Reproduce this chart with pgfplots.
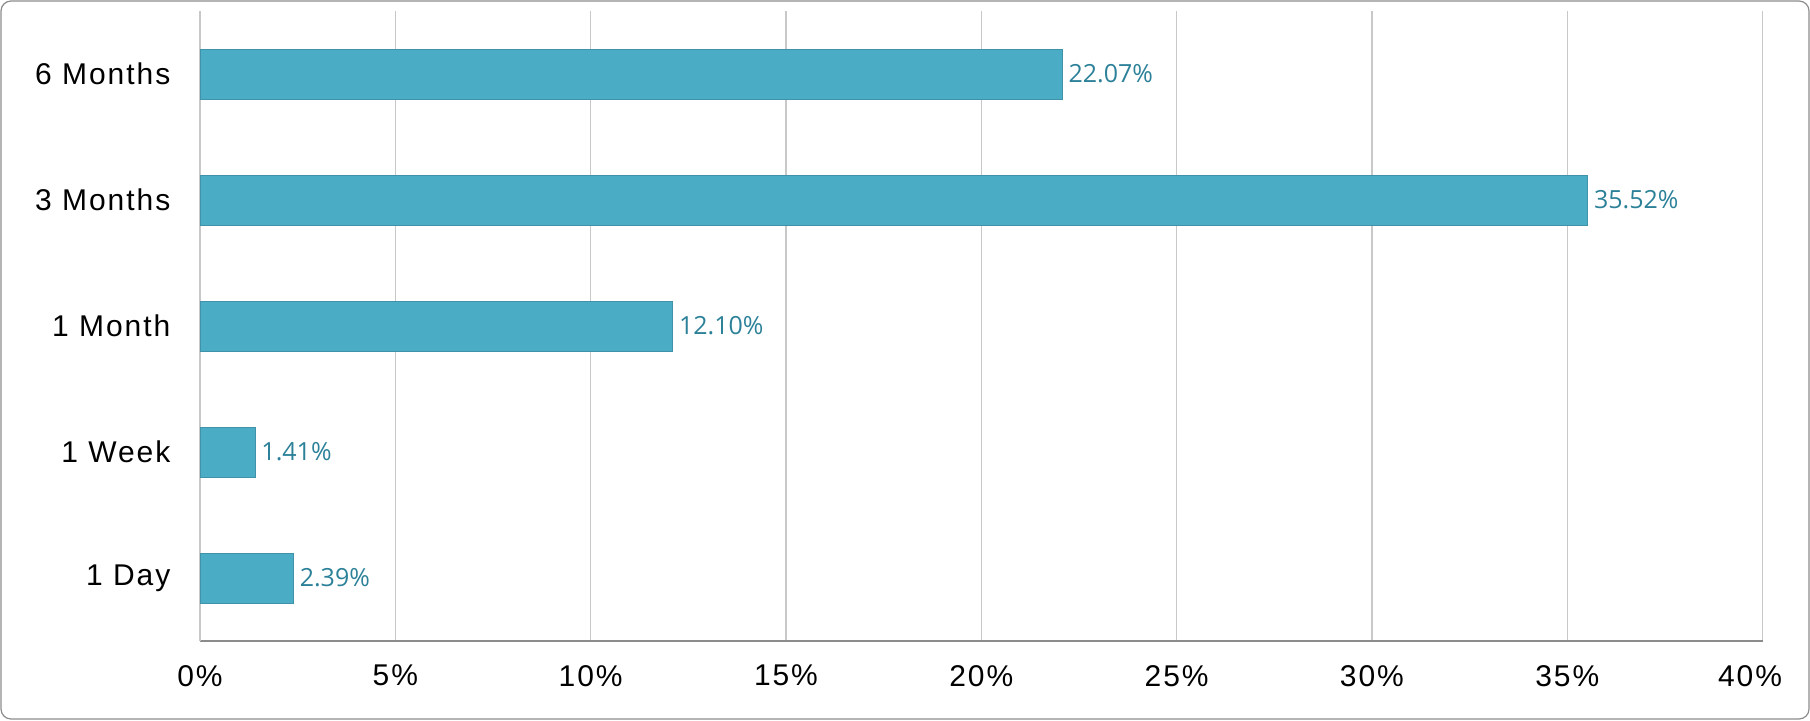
\documentclass[border=0pt]{standalone}
\usepackage{fontspec}
\setmainfont{Liberation Sans}
\newfontfamily\tickfont[LetterSpace=6.5]{Liberation Sans}
\newfontfamily\labfont{Open Sans}
\usepackage{pgfplots}
\pgfplotsset{compat=1.18}
\definecolor{barc}{HTML}{4BACC6}
\definecolor{labc}{HTML}{2C8199}
\definecolor{gridc}{HTML}{C8C8C8}
\definecolor{axc}{HTML}{8C8C8C}
\begin{document}
\begin{tikzpicture}
\useasboundingbox (0,0) rectangle (905pt,360pt);
\draw[color=axc, line width=0.6pt, rounded corners=5pt] (0.5pt,0.5pt) rectangle (904.5pt,359.5pt);
\begin{axis}[
  at={(100pt,39.5pt)}, anchor=south west,
  scale only axis, width=781.3pt, height=315pt,
  xbar, bar width=25pt,
  xmin=0, xmax=40, ymin=-0.5, ymax=4.5,
  xtick={0,5,...,40},
  xticklabels={0\%,5\%,10\%,15\%,20\%,25\%,30\%,35\%,\hspace*{-12.6pt}40\%},
  ytick={0,1,2,3,4},
  yticklabels={1 Day,1 Week,1 Month,3 Months,6 Months},
  axis x line*=bottom, axis y line*=left,
  x axis line style={color=axc, line width=0.7pt, -},
  y axis line style={color=gridc, line width=0.7pt, -},
  major tick length=0pt,
  xmajorgrids, grid style={color=gridc, line width=0.6pt},
  /pgf/number format/assume math mode=true,
  tick label style={font=\tickfont\fontsize{15}{17}\selectfont, color=black},
  xticklabel style={yshift=-8.5pt},
  yticklabel style={xshift=-11.3pt},
  nodes near coords={\pgfmathprintnumber[fixed,fixed zerofill,precision=2,assume math mode=true]{\pgfplotspointmeta}\%},
  nodes near coords style={anchor=west, inner sep=0pt, xshift=3pt, font=\labfont\fontsize{12.5}{14}\selectfont, color=labc},
  clip=false,
]
\addplot[fill=barc, draw=barc!85!black, line width=0.4pt] coordinates {
  (2.39,0) (1.41,1) (12.10,2) (35.52,3) (22.07,4)
};
\end{axis}
\end{tikzpicture}
\end{document}
